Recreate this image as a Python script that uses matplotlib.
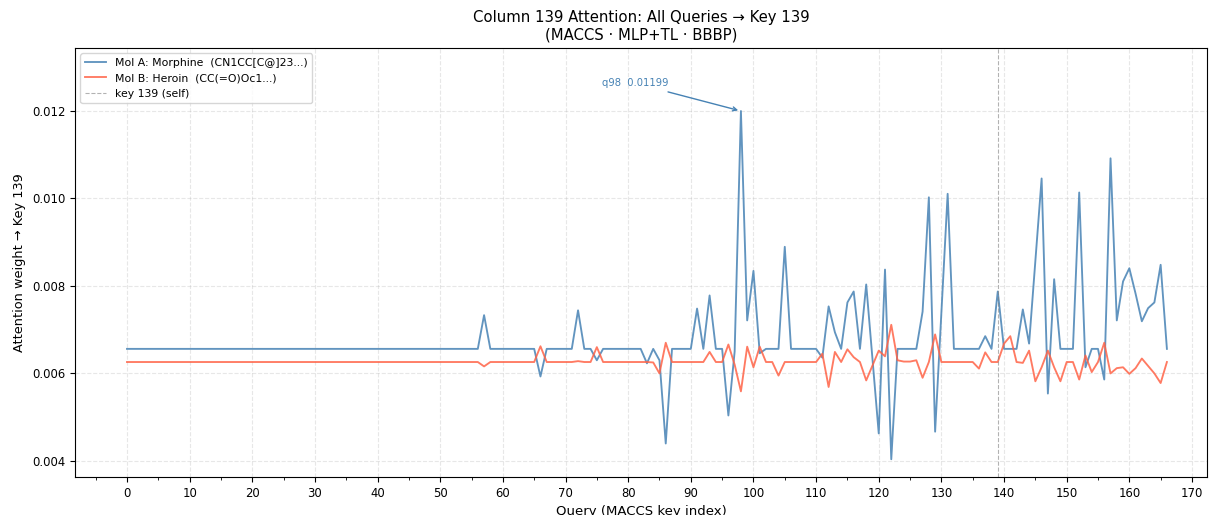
import numpy as np
import matplotlib
matplotlib.use("Agg")
import matplotlib.pyplot as plt

key_idx = 139
peak_q = 98
label_a = "Mol A: Morphine  (CN1CC[C@]23...)"
label_b = "Mol B: Heroin  (CC(=O)Oc1...)"

# attention of every query -> key 139
attn_a = [
    0.00656, 0.00656, 0.00656, 0.00656, 0.00656, 0.00656, 0.00656, 0.00656, 0.00656, 0.00656,
    0.00656, 0.00656, 0.00656, 0.00656, 0.00656, 0.00656, 0.00656, 0.00656, 0.00656, 0.00656,
    0.00656, 0.00656, 0.00656, 0.00656, 0.00656, 0.00656, 0.00656, 0.00656, 0.00656, 0.00656,
    0.00656, 0.00656, 0.00656, 0.00656, 0.00656, 0.00656, 0.00656, 0.00656, 0.00656, 0.00656,
    0.00656, 0.00656, 0.00656, 0.00656, 0.00656, 0.00656, 0.00656, 0.00656, 0.00656, 0.00656,
    0.00656, 0.00656, 0.00656, 0.00656, 0.00656, 0.00656, 0.00656, 0.00733, 0.00656, 0.00656,
    0.00656, 0.00656, 0.00656, 0.00656, 0.00656, 0.00656, 0.00593, 0.00656, 0.00656, 0.00656,
    0.00656, 0.00656, 0.00744, 0.00656, 0.00656, 0.00630, 0.00656, 0.00656, 0.00656, 0.00656,
    0.00656, 0.00656, 0.00656, 0.00623, 0.00656, 0.00630, 0.00440, 0.00656, 0.00656, 0.00656,
    0.00656, 0.00748, 0.00656, 0.00778, 0.00656, 0.00656, 0.00504, 0.00650, 0.01199, 0.00721,
    0.00834, 0.00646, 0.00656, 0.00656, 0.00656, 0.00889, 0.00656, 0.00656, 0.00656, 0.00656,
    0.00656, 0.00636, 0.00753, 0.00694, 0.00656, 0.00762, 0.00787, 0.00656, 0.00803, 0.00632,
    0.00463, 0.00837, 0.00404, 0.00656, 0.00656, 0.00656, 0.00656, 0.00741, 0.01002, 0.00467,
    0.00740, 0.01010, 0.00656, 0.00656, 0.00656, 0.00656, 0.00656, 0.00685, 0.00656, 0.00787,
    0.00656, 0.00656, 0.00656, 0.00746, 0.00668, 0.00856, 0.01045, 0.00554, 0.00815, 0.00656,
    0.00656, 0.00656, 0.01013, 0.00614, 0.00656, 0.00656, 0.00586, 0.01091, 0.00721, 0.00810,
    0.00840, 0.00782, 0.00719, 0.00749, 0.00762, 0.00848, 0.00656,
]
attn_b = [
    0.00626, 0.00626, 0.00626, 0.00626, 0.00626, 0.00626, 0.00626, 0.00626, 0.00626, 0.00626,
    0.00626, 0.00626, 0.00626, 0.00626, 0.00626, 0.00626, 0.00626, 0.00626, 0.00626, 0.00626,
    0.00626, 0.00626, 0.00626, 0.00626, 0.00626, 0.00626, 0.00626, 0.00626, 0.00626, 0.00626,
    0.00626, 0.00626, 0.00626, 0.00626, 0.00626, 0.00626, 0.00626, 0.00626, 0.00626, 0.00626,
    0.00626, 0.00626, 0.00626, 0.00626, 0.00626, 0.00626, 0.00626, 0.00626, 0.00626, 0.00626,
    0.00626, 0.00626, 0.00626, 0.00626, 0.00626, 0.00626, 0.00626, 0.00616, 0.00626, 0.00626,
    0.00626, 0.00626, 0.00626, 0.00626, 0.00626, 0.00626, 0.00662, 0.00626, 0.00626, 0.00626,
    0.00626, 0.00626, 0.00628, 0.00626, 0.00626, 0.00660, 0.00626, 0.00626, 0.00626, 0.00626,
    0.00626, 0.00626, 0.00626, 0.00626, 0.00625, 0.00600, 0.00670, 0.00626, 0.00626, 0.00626,
    0.00626, 0.00626, 0.00626, 0.00649, 0.00626, 0.00626, 0.00666, 0.00620, 0.00559, 0.00661,
    0.00614, 0.00661, 0.00626, 0.00626, 0.00595, 0.00626, 0.00626, 0.00626, 0.00626, 0.00626,
    0.00626, 0.00645, 0.00569, 0.00649, 0.00626, 0.00655, 0.00637, 0.00626, 0.00584, 0.00618,
    0.00652, 0.00639, 0.00711, 0.00630, 0.00627, 0.00627, 0.00630, 0.00590, 0.00626, 0.00689,
    0.00626, 0.00626, 0.00626, 0.00626, 0.00626, 0.00626, 0.00611, 0.00648, 0.00626, 0.00626,
    0.00668, 0.00685, 0.00626, 0.00624, 0.00652, 0.00582, 0.00614, 0.00652, 0.00614, 0.00582,
    0.00626, 0.00626, 0.00586, 0.00641, 0.00603, 0.00626, 0.00670, 0.00600, 0.00612, 0.00614,
    0.00599, 0.00612, 0.00634, 0.00617, 0.00600, 0.00578, 0.00626,
]

q = np.arange(len(attn_a))

fig = plt.figure(figsize=(12.09, 5.15), dpi=100)
ax = fig.add_axes([75 / 1209, 38 / 515, 1132 / 1209, 429 / 515])

ax.plot(q, attn_a, color="steelblue", lw=1.35, alpha=0.85, label=label_a)
ax.plot(q, attn_b, color="tomato", lw=1.35, alpha=0.85, label=label_b)
ax.axvline(key_idx, color="gray", ls="--", lw=0.8, alpha=0.6, label=f"key {key_idx} (self)")

ax.annotate(f"q{peak_q}  {attn_a[peak_q]:.5f}", xy=(peak_q, attn_a[peak_q]),
            xytext=(81.2, 0.01262), ha="center", va="center",
            fontsize=7.2, color="steelblue",
            arrowprops=dict(arrowstyle="->", color="steelblue", lw=1))

ax.set_xlim(-8.3, 172.4)
ax.set_ylim(0.003635, max(attn_a) * 1.12)
ax.set_xticks(np.arange(0, 171, 10))
ax.set_xticks(np.arange(-5, 172, 5), minor=True)
ax.set_yticks([0.004, 0.006, 0.008, 0.010, 0.012])
ax.tick_params(labelsize=8.4)
ax.grid(True, ls="--", alpha=0.3)
ax.set_xlabel("Query (MACCS key index)", fontsize=9.5)
ax.set_ylabel(f"Attention weight \u2192 Key {key_idx}", fontsize=9.3)
ax.set_title(f"Column {key_idx} Attention: All Queries \u2192 Key {key_idx}\n(MACCS \u00b7 MLP+TL \u00b7 BBBP)",
             fontsize=10.7)
ax.legend(loc="upper left", fontsize=7.8)

fig.savefig("out.png", dpi=100)
